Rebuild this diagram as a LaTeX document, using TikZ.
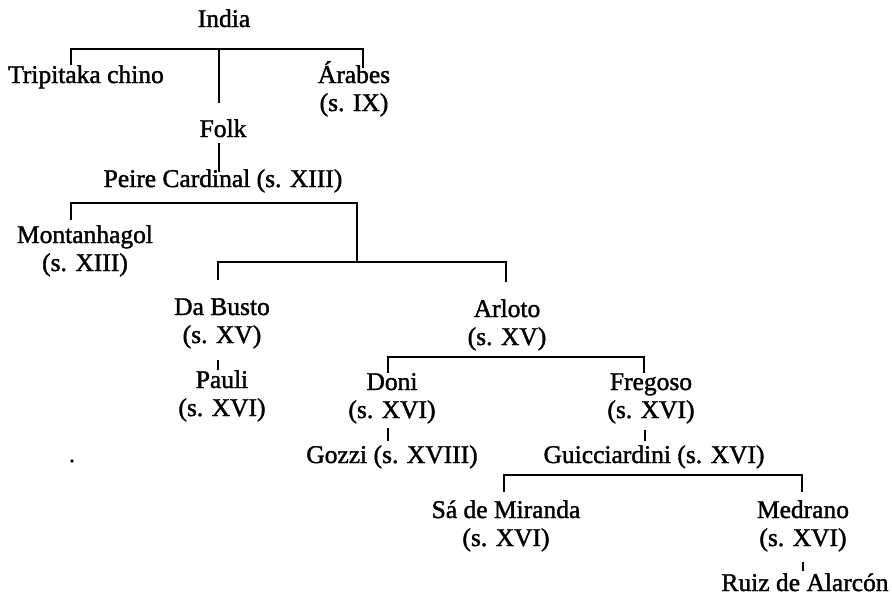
\documentclass[tikz,border=0pt]{standalone}
\usepackage{fontspec}
\setmainfont{Liberation Serif}[FakeBold=1.5]
\begin{document}
\begin{tikzpicture}[x=1pt,y=-1pt,
  lbl/.style={inner sep=0pt, anchor=base, align=center, font=\fontsize{25.5}{28}\selectfont},
  ln/.style={line width=1.6pt}]
\useasboundingbox (0,0) rectangle (892,595);
% nodes (base = baseline of the last line)
\node[lbl] (india)   at (224,27)  {India};
\node[lbl] (trip)    at (86,83)   {Tripitaka chino};
\node[lbl] (arabes)  at (354,111) {Árabes\\(s. IX)};
\node[lbl] (folk)    at (223,137) {Folk};
\node[lbl] (peire)   at (223,187) {Peire Cardinal (s. XIII)};
\node[lbl] (monta)   at (85,271)  {Montanhagol\\(s. XIII)};
\node[lbl] (dabusto) at (222,343) {Da Busto\\(s. XV)};
\node[lbl] (pauli)   at (222,416) {Pauli\\(s. XVI)};
\node[lbl] (arloto)  at (507,345) {Arloto\\(s. XV)};
\node[lbl] (doni)    at (392,418) {Doni\\(s. XVI)};
\node[lbl] (fregoso) at (651,418) {Fregoso\\(s. XVI)};
\node[lbl] (gozzi)   at (392,463) {Gozzi (s. XVIII)};
\node[lbl] (guicc)   at (654,463) {Guicciardini (s. XVI)};
\node[lbl] (sa)      at (506,546) {Sá de Miranda\\(s. XVI)};
\node[lbl] (medrano) at (803,546) {Medrano\\(s. XVI)};
\node[lbl] (ruiz)    at (805,591) {Ruiz de Alarcón};
% junctions
\coordinate (j1) at (219,49);
\coordinate (j2) at (357,203);
\coordinate (j3) at (357,262);
% connectors
\draw[ln] ([xshift=-15pt]trip.north) |- (j1) -| ([xshift=9pt,yshift=-6.7pt]arabes.north);
\draw[ln] (j1) -- ([xshift=-4pt,yshift=16.6pt]folk.north);
\draw[ln] ([xshift=-4pt,yshift=-6pt]folk.south) -- ([xshift=-4pt,yshift=-2.5pt]folk.south |- peire.north);
\draw[ln] ([xshift=-14pt,yshift=5.6pt]monta.north) |- (j2) -- (j3);
\draw[ln] ([xshift=-4pt,yshift=18pt]dabusto.north) |- (j3) -| ([xshift=-1pt,yshift=17.6pt]arloto.north);
\draw[ln] ([xshift=-4pt,yshift=-11.5pt]dabusto.south) -- ([xshift=-4pt]pauli.north);
\draw[ln] ([xshift=-4pt]doni.north) |- ([yshift=-6.5pt]arloto.south) -| ([xshift=-7pt]fregoso.north);
\draw[ln] ([xshift=-4pt,yshift=-4.5pt]doni.south) -- ([xshift=-4pt,yshift=4pt]gozzi.north);
\draw[ln] ([xshift=-6pt,yshift=-6.5pt]fregoso.south) -- ([xshift=-6pt,yshift=4pt]fregoso.south |- guicc.north);
\draw[ln] ([xshift=-2pt,yshift=8.5pt]sa.north) |- ([yshift=-6.5pt]guicc.south) -| ([xshift=-1pt,yshift=8.5pt]medrano.north);
\draw[ln] ([yshift=-10.5pt]medrano.south) -- ([yshift=1.6pt]medrano.south |- ruiz.north);
% stray mark
\fill (72,461) circle (1.8pt);
\end{tikzpicture}
\end{document}
